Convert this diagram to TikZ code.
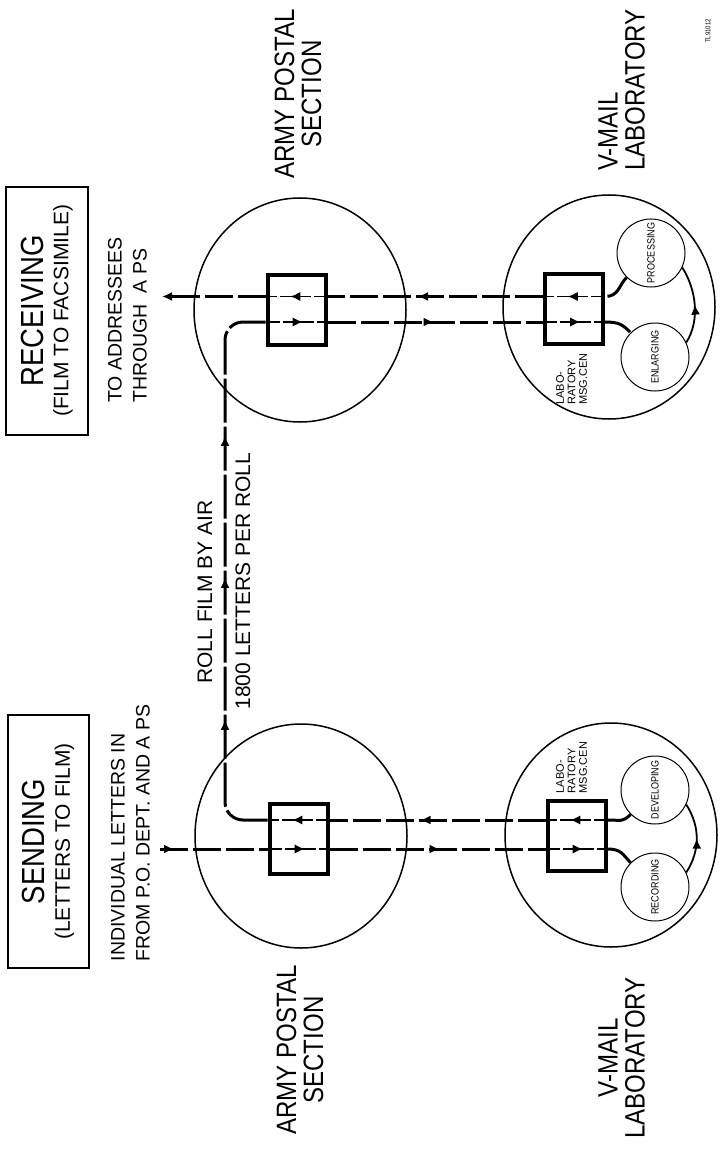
\documentclass[tikz,border=0pt]{standalone}
\usepackage{fontspec}
\setmainfont{Liberation Sans}
\newfontfamily\narrowsans[FakeStretch=0.86]{Liberation Sans}
\usetikzlibrary{arrows.meta,shapes.geometric,decorations.markings}

\begin{document}
\begin{tikzpicture}[x=1pt,y=1pt,>={Latex[length=10pt,width=9pt]},
    station/.style={ellipse,draw,line width=1.5pt,inner sep=0pt,minimum width=212,minimum height=224},
    stepcircle/.style={circle,draw,line width=1pt,inner sep=0pt,minimum size=68,font=\narrowsans\fontsize{10.5}{11}\selectfont},
    desk/.style={rectangle,draw,line width=4pt,inner sep=0pt,minimum width=58,minimum height=70},
    titlebox/.style={rectangle,draw,line width=2.8pt,rotate=90,inner sep=0pt,align=center,font=\fontsize{21}{25}\selectfont},
    biglabel/.style={rotate=90,inner sep=0pt,font=\narrowsans\fontsize{28}{27}\selectfont},
    note/.style={rotate=90,inner sep=0pt,align=left,font=\fontsize{19.5}{25}\selectfont},
    flow/.style={line width=3pt,dash pattern=on 28pt off 5pt},
    film/.style={line width=3pt,dash pattern=on 44pt off 4pt},
    inflow/.style={line width=1.2pt,dash pattern=on 14pt off 3pt,postaction={decorate},
      decoration={markings,mark=at position 0.6 with {\arrow{>}}}},
    arrowat/.style={postaction={decorate},decoration={markings,mark=at position #1 with {\arrow{>}}}}]
\useasboundingbox (0,0) rectangle (727,-1150);

% titles
\node[titlebox,minimum width=248,minimum height=82] (recvbox) at (47,-311)
  {{\narrowsans\fontsize{32}{32}\selectfont RECEIVING}\\(FILM TO FACSIMILE)};
\node[titlebox,minimum width=253,minimum height=81] (sendbox) at (48.5,-841.5)
  {{\narrowsans\fontsize{32}{32}\selectfont SENDING}\\(LETTERS TO FILM)};
\node[note] (addrtext) at (127.5,-320) {TO ADDRESSEES\\THROUGH\ \ A PS};
\node[note] (lettertext) at (130.5,-833) {INDIVIDUAL LETTERS IN\\FROM\ P.O. DEPT.\ AND\ A PS};
\node[rotate=90,inner sep=0pt,font=\fontsize{21}{21}\selectfont] (filmtext) at (205,-592) {ROLL\ FILM BY AIR};
\node[rotate=90,inner sep=0pt,font=\fontsize{21}{21}\selectfont] (rolltext) at (243,-581) {1800 LETTERS PER ROLL};
\node[biglabel,align=center] (rapslabel) at (298,-94) {ARMY POSTAL\\SECTION};
\node[biglabel,align=center] (sapslabel) at (300,-1050) {ARMY POSTAL\\SECTION};
\node[biglabel,align=left] (rlablabel) at (621.5,-90) {V-MAIL\\LABORATORY};
\node[biglabel,align=center] (slablabel) at (621.5,-1058) {V-MAIL\\LABORATORY};
\node[rotate=90,inner sep=0pt,font=\narrowsans\fontsize{7}{7}\selectfont] (tlno) at (708,-31) {TL91012};

% stations
\node[station] (raps) at (300,-310) {};
\node[station] (saps) at (301,-836) {};
\node[station] (rlab) at (609,-307) {};
\node[station] (slab) at (611,-835) {};
\node[desk] (rapsbox) at (296.5,-309.5) {};
\node[desk] (rlabbox) at (574,-308.5) {};
\node[desk] (sapsbox) at (298.5,-839) {};
\node[desk] (slabbox) at (576.5,-836) {};
\node[rotate=90,inner sep=0pt,align=left,font=\fontsize{11}{11.5}\selectfont] (rmsg) at (571.5,-379) {LABO-\\RATORY\\MSG.CEN};
\node[rotate=90,inner sep=0pt,align=left,font=\fontsize{11}{11.5}\selectfont] (smsg) at (571.5,-767.5) {LABO-\\RATORY\\MSG.CEN};
\node[stepcircle] (proc) at (651,-253) {\rotatebox{90}{PROCESSING}};
\node[stepcircle] (enl) at (655,-357) {\rotatebox{90}{ENLARGING}};
\node[stepcircle] (dev) at (655,-790) {\rotatebox{90}{DEVELOPING}};
\node[stepcircle] (rec) at (655,-887) {\rotatebox{90}{RECORDING}};

\coordinate (ru) at (0,-296.5);
\coordinate (rl) at (0,-322);
\coordinate (su) at (0,-820);
\coordinate (sl) at (0,-849);
\coordinate (filmx) at (225,0);
\coordinate (addr) at (162,-296.5);
\coordinate (letters) at (160,-849);

% through the desks
\foreach \b/\u/\l in {rapsbox/ru/rl,rlabbox/ru/rl,sapsbox/su/sl,slabbox/su/sl}{
  \draw[inflow] (\b.east |- \u) -- (\b.west |- \u);
  \draw[inflow] (\b.west |- \l) -- (\b.east |- \l);
}

% sending
\draw[flow,arrowat=14pt] (letters) -- (sapsbox.west |- sl);
\draw[flow,arrowat=110pt] (sapsbox.east |- sl) -- (slabbox.west |- sl);
\draw[flow] (slabbox.east |- sl) .. controls +(14,0) and +(-8,8) .. (rec.135);
\draw[line width=1.8pt,arrowat=0.5] (rec.25) .. controls +(14,22) and +(14,-22) .. (dev.-25);
\draw[flow] (dev.225) .. controls +(-8,-8) and +(14,0) .. (slabbox.east |- su);
\draw[flow,arrowat=125pt] (slabbox.west |- su) -- (sapsbox.east |- su);

% roll film
\draw[film,rounded corners=18pt,postaction={decorate},
  decoration={markings,mark=between positions 135pt and 430pt step 142pt with {\arrow{>}}}]
  (sapsbox.west |- su) -- (filmx |- su) -- (filmx |- rl) -- (rapsbox.west |- rl);

% receiving
\draw[flow,arrowat=106pt] (rapsbox.east |- rl) -- (rlabbox.west |- rl);
\draw[flow] (rlabbox.east |- rl) .. controls +(14,0) and +(-8,8) .. (enl.135);
\draw[line width=1.8pt,arrowat=0.5] (enl.25) .. controls +(14,22) and +(14,-22) .. (proc.-25);
\draw[flow] (proc.225) .. controls +(-8,-8) and +(14,0) .. (rlabbox.east |- ru);
\draw[flow,arrowat=125pt] (rlabbox.west |- ru) -- (rapsbox.east |- ru);
\draw[flow,->] (rapsbox.west |- ru) -- (addr);
\end{tikzpicture}
\end{document}
